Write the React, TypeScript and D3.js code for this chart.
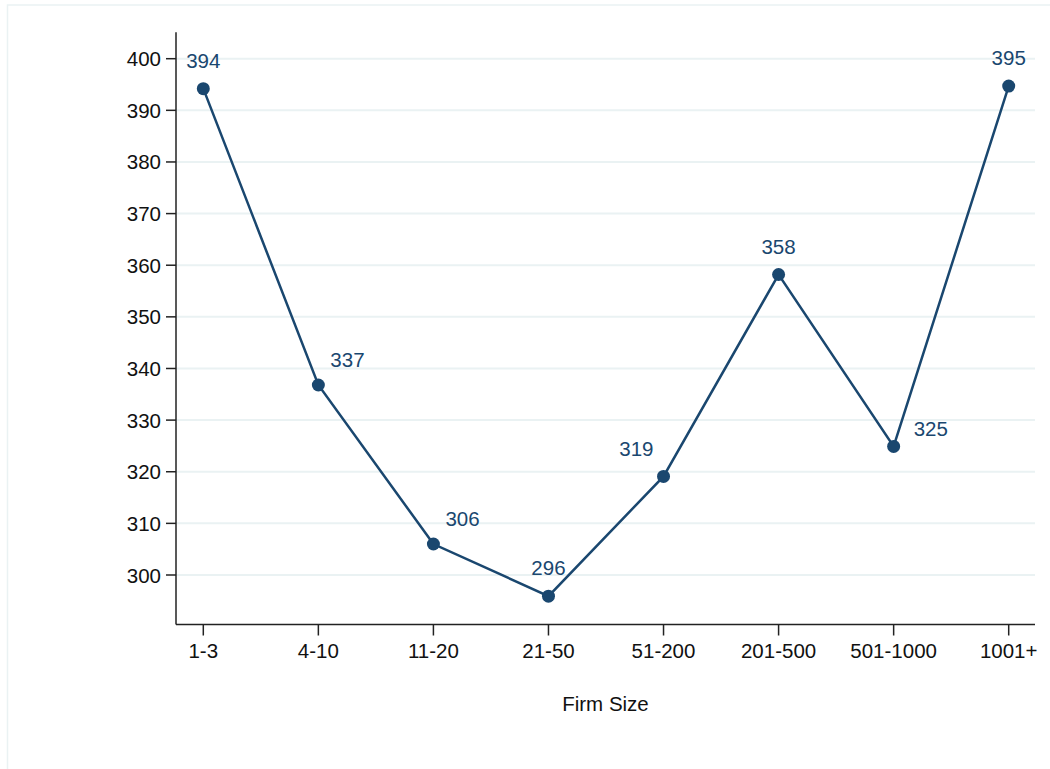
import React from "react";
import * as d3 from "d3";

const categories = ["1-3", "4-10", "11-20", "21-50", "51-200", "201-500", "501-1000", "1001+"];
const values = [394.2, 336.8, 306.0, 295.9, 319.1, 358.2, 324.9, 394.7];
const labels = ["394", "337", "306", "296", "319", "358", "325", "395"];
// label placement (clock positions as in Stata)
const labelPos = ["12", "1", "1", "12", "11", "12", "2", "12"];
const yTicks = [300, 310, 320, 330, 340, 350, 360, 370, 380, 390, 400];

const W = 1050;
const H = 769;
const NAVY = "#1a476f";
const GRID = "#eaf2f3";
const FONT = "'Liberation Sans', Arial, Helvetica, sans-serif";
const FS = 20.5;

export default function App() {
  const left = 176;
  const right = 1035;
  const top = 32.3;
  const bottom = 624.5;

  const x = d3.scalePoint<string>().domain(categories).range([203.3, 1008.7]);
  const y = d3.scaleLinear().domain([300, 400]).range([575, 58.7]);

  const line = d3
    .line<number>()
    .x((_, i) => x(categories[i]) as number)
    .y((d) => y(d));

  const offset = (pos: string) => {
    switch (pos) {
      case "1":
        return { dx: 12, dy: -18, anchor: "start" };
      case "11":
        return { dx: -10, dy: -20, anchor: "end" };
      case "2":
        return { dx: 20, dy: -10, anchor: "start" };
      default:
        return { dx: 0, dy: -21, anchor: "middle" };
    }
  };

  return (
    <svg
      width={W}
      height={H}
      style={{ position: "absolute", left: 0, top: 0, display: "block", background: "#fff" }}
      fontFamily={FONT}
    >
      <rect x={0} y={0} width={W} height={H} fill="#fff" />
      <rect x={7.5} y={5} width={W + 20} height={H + 20} fill="none" stroke={GRID} strokeWidth={1.5} />

      {/* gridlines */}
      {yTicks.map((t) => (
        <line key={"g" + t} x1={left} x2={right} y1={y(t)} y2={y(t)} stroke={GRID} strokeWidth={2} />
      ))}

      {/* axes */}
      <line x1={left} x2={left} y1={top} y2={bottom} stroke="#222" strokeWidth={1.5} />
      <line x1={left} x2={right} y1={bottom} y2={bottom} stroke="#222" strokeWidth={1.5} />

      {yTicks.map((t) => (
        <g key={"yt" + t}>
          <line x1={left - 10} x2={left} y1={y(t)} y2={y(t)} stroke="#222" strokeWidth={1.5} />
          <text x={161} y={y(t) + 7.5} textAnchor="end" fontSize={FS} fill="#111">
            {t}
          </text>
        </g>
      ))}

      {categories.map((c) => (
        <g key={"xt" + c}>
          <line x1={x(c)} x2={x(c)} y1={bottom} y2={bottom + 11} stroke="#222" strokeWidth={1.5} />
          <text x={x(c)} y={657.5} textAnchor="middle" fontSize={FS} fill="#111">
            {c}
          </text>
        </g>
      ))}

      <text x={(left + right) / 2} y={710.5} textAnchor="middle" fontSize={FS} fill="#111">
        Firm Size
      </text>

      {/* series */}
      <path d={line(values) as string} fill="none" stroke={NAVY} strokeWidth={2.5} />
      {values.map((v, i) => (
        <circle key={"p" + i} cx={x(categories[i])} cy={y(v)} r={6.5} fill={NAVY} />
      ))}
      {values.map((v, i) => {
        const o = offset(labelPos[i]);
        return (
          <text
            key={"l" + i}
            x={(x(categories[i]) as number) + o.dx}
            y={y(v) + o.dy}
            textAnchor={o.anchor as any}
            fontSize={FS}
            fill={NAVY}
          >
            {labels[i]}
          </text>
        );
      })}
    </svg>
  );
}
